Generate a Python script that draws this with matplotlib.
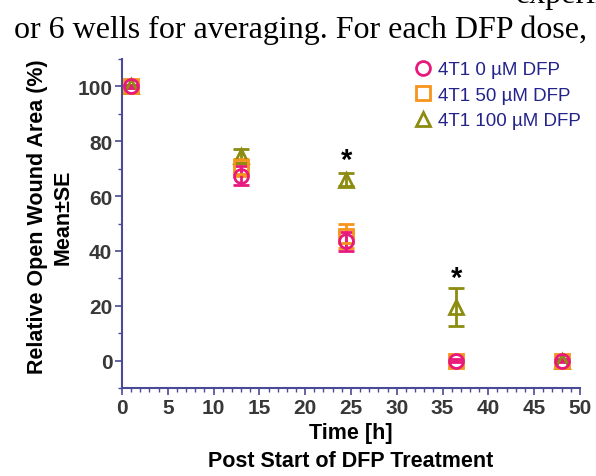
import matplotlib
matplotlib.use('Agg')
from matplotlib import pyplot as plt
from matplotlib.lines import Line2D
from matplotlib.ticker import MultipleLocator

# data
time_h = [1, 13, 24.5, 36.5, 48]
dfp_0 = [100, 67.5, 43.5, 0, 0]
dfp_0_se = [0.5, 3.5, 3.5, 0.5, 0.5]
dfp_50 = [100, 70.5, 45.5, 0, 0]
dfp_50_se = [0.5, 3.0, 4.5, 0.3, 0.3]
dfp_100 = [100, 74.5, 66, 19.5, 0]
dfp_100_se = [0.5, 2.5, 2.5, 7.0, 0.3]
star_x = [24.5, 36.5]
star_y = [68, 25]

labels = ['4T1 0 \u00b5M DFP', '4T1 50 \u00b5M DFP', '4T1 100 \u00b5M DFP']
colors = ['#e8197d', '#f7941d', '#8c8c10']
markers = ['o', 's', '^']

plt.rcParams['font.family'] = ['Liberation Sans', 'DejaVu Sans']

fig = plt.figure(figsize=(5.96, 4.77), dpi=100)
ax = fig.add_axes([0.2047, 0.1845, 0.7683, 0.6897])

# draw 100 uM first so the control circles end up on top
for i in [2, 1, 0]:
    vals = [dfp_0, dfp_50, dfp_100][i]
    err = [dfp_0_se, dfp_50_se, dfp_100_se][i]
    ax.errorbar(time_h, vals, yerr=err, fmt=markers[i], ms=10, mfc='none',
                mec=colors[i], mew=2, ecolor=colors[i], elinewidth=2,
                capsize=6, capthick=2)

for x, y in zip(star_x, star_y):
    ax.text(x, y, '*', ha='center', va='bottom', fontsize=21,
            fontweight='bold', color='black')

ax.set_xlim(0, 50)
ax.set_ylim(-10, 110)
ax.xaxis.set_major_locator(MultipleLocator(5))
ax.xaxis.set_minor_locator(MultipleLocator(1))
ax.yaxis.set_major_locator(MultipleLocator(20))
ax.yaxis.set_minor_locator(MultipleLocator(10))

spine_col = '#4a4a96'
for s in ['top', 'right']:
    ax.spines[s].set_visible(False)
for s in ['left', 'bottom']:
    ax.spines[s].set_color(spine_col)
    ax.spines[s].set_linewidth(1.5)
ax.tick_params(which='major', direction='out', length=5, width=1.2, pad=2,
               color=spine_col, labelsize=15, labelcolor='#383838')
ax.tick_params(which='minor', direction='out', length=3, width=1,
               color=spine_col)
for t in ax.get_xticklabels() + ax.get_yticklabels():
    t.set_fontweight('bold')

ax.set_xlabel('Time [h]\nPost Start of DFP Treatment', fontsize=15.5,
              fontweight='bold', labelpad=4, linespacing=1.42)
ax.set_ylabel('Relative Open Wound Area (%)\nMean\u00b1SE', fontsize=15.5,
              fontweight='bold', linespacing=1.3)
ax.yaxis.set_label_coords(-0.106, 0.523)

proxies = [Line2D([], [], ls='none', marker=markers[i], ms=10, mfc='none',
                  mec=colors[i], mew=2) for i in range(3)]
leg = ax.legend(proxies, labels, loc='upper right',
                bbox_to_anchor=(1.04, 1.045), frameon=False, fontsize=13.5,
                handletextpad=0.35, labelspacing=0.45, handlelength=1.0)
for t in leg.get_texts():
    t.set_color('#23238a')

# document text around the figure
fig.text(0.023, 0.92, 'or 6 wells for averaging. For each DFP dose,',
         family=['Liberation Serif', 'DejaVu Serif'], fontsize=23,
         ha='left', va='baseline')
fig.text(0.865, 0.993, 'experim', family=['Liberation Serif', 'DejaVu Serif'],
         fontsize=23, ha='left', va='baseline')

fig.savefig('out.png', dpi=100)
